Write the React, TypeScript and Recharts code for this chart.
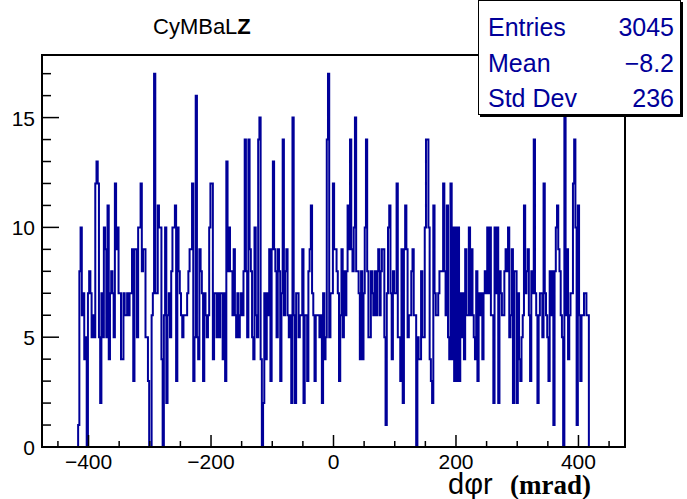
import React from "react";
import { LineChart, Line, XAxis, YAxis } from "recharts";

// histogram: 2 mrad bins starting at -417 mrad
const binStart = -417;
const binWidth = 2;
const counts: number[] = [
  1, 8, 10, 6, 7, 4, 5, 0, 7, 8, 7, 5, 6, 5, 12, 13, 12, 5, 2, 7, 5, 10, 9, 5, 11, 4, 7, 8, 7, 5, 12, 9, 10,
  7, 7, 4, 4, 7, 6, 6, 7, 6, 7, 7, 9, 3, 9, 9, 5, 10, 10, 12, 8, 9, 9, 5, 5, 3, 0, 0, 6, 7, 17, 7, 7, 11, 10, 10, 4,
  0, 6, 10, 2, 6, 7, 5, 8, 10, 10, 11, 3, 10, 8, 7, 6, 5, 6, 6, 6, 7, 8, 9, 9, 12, 3, 5, 16, 5, 4, 9, 8, 7, 3, 7, 6,
  5, 6, 10, 12, 12, 4, 7, 7, 5, 7, 5, 7, 7, 4, 7, 3, 13, 8, 10, 8, 8, 6, 9, 6, 5, 7, 5, 6, 7, 6, 8, 14, 8, 5, 14, 9,
  8, 5, 4, 10, 6, 5, 14, 15, 4, 0, 2, 7, 4, 7, 6, 9, 3, 9, 13, 9, 8, 5, 9, 8, 3, 7, 14, 6, 8, 9, 6, 5, 6, 2, 15, 6,
  2, 7, 7, 5, 6, 6, 9, 2, 6, 6, 3, 8, 9, 11, 7, 6, 3, 6, 6, 6, 5, 6, 2, 7, 4, 5, 14, 17, 5, 7, 7, 12, 9, 9, 8, 7,
  3, 6, 9, 5, 8, 6, 8, 11, 9, 14, 9, 8, 10, 15, 8, 8, 7, 4, 8, 4, 7, 10, 14, 8, 5, 5, 8, 7, 6, 8, 6, 8, 9, 6, 8, 9,
  9, 5, 1, 7, 10, 11, 7, 4, 8, 7, 7, 12, 5, 5, 3, 9, 2, 9, 11, 9, 5, 6, 6, 8, 9, 6, 6, 0, 5, 4, 4, 8, 5, 5, 10, 14,
  14, 10, 4, 3, 2, 11, 7, 6, 6, 7, 8, 8, 8, 12, 8, 6, 11, 5, 4, 12, 4, 10, 3, 10, 3, 10, 3, 7, 5, 7, 4, 9, 6, 6, 10, 6,
  9, 6, 5, 4, 8, 3, 7, 6, 7, 4, 7, 8, 7, 10, 7, 10, 6, 6, 2, 10, 7, 10, 2, 8, 7, 6, 6, 8, 9, 8, 10, 5, 6, 9, 2, 8,
  8, 2, 7, 4, 3, 5, 6, 11, 7, 8, 9, 6, 3, 8, 7, 14, 7, 6, 2, 6, 7, 7, 5, 12, 7, 6, 5, 3, 8, 6, 8, 1, 8, 10, 11, 9,
  8, 6, 5, 0, 15, 6, 9, 4, 6, 7, 7, 12, 14, 10, 1, 11, 6, 3, 6, 6, 7, 7, 6, 6,
];

const xTicks = [-450, -400, -350, -300, -250, -200, -150, -100, -50, 0, 50, 100, 150, 200, 250, 300, 350, 400, 450];
const xMajor = [-400, -200, 0, 200, 400];
const yTicks = [0, 1, 2, 3, 4, 5, 6, 7, 8, 9, 10, 11, 12, 13, 14, 15, 16, 17];
const yMajor = [0, 5, 10, 15];

const statsLabels = ["Entries", "Mean", "Std Dev"];
const statsValues = ["3045", "\u22128.2", "236"];

const FONT = "'Liberation Sans', Arial, Helvetica, sans-serif";
const SERIF = "'Liberation Serif', 'Times New Roman', serif";
const BLUE = "#000099";

const histData = [
  { x: binStart, y: 0 },
  ...counts.map((c, i) => ({ x: binStart + i * binWidth, y: c })),
  { x: binStart + counts.length * binWidth, y: counts[counts.length - 1] },
  { x: binStart + counts.length * binWidth, y: 0 },
];

const fmt = (v: number) => (v < 0 ? "\u2212" + Math.abs(v) : String(v));

const XTick = (props: any) => {
  const { x, y, payload } = props;
  const major = xMajor.includes(payload.value);
  return (
    <g>
      <line x1={x} x2={x} y1={y} y2={y - (major ? 12 : 6)} stroke="#000" strokeWidth={1.5} />
      {major && (
        <text x={x} y={y + 22} textAnchor="middle" fontSize={21} fontFamily={FONT} fill="#000">
          {fmt(payload.value)}
        </text>
      )}
    </g>
  );
};

const YTick = (props: any) => {
  const { x, y, payload } = props;
  const major = yMajor.includes(payload.value);
  return (
    <g>
      <line x1={x} x2={x + (major ? 17 : 9)} y1={y} y2={y} stroke="#000" strokeWidth={1.5} />
      {major && (
        <text x={x - 7} y={y} dy={8} textAnchor="end" fontSize={21} fontFamily={FONT} fill="#000">
          {payload.value}
        </text>
      )}
    </g>
  );
};

export default function App() {
  return (
    <div style={{ position: "absolute", left: 0, top: 0, width: 687, height: 499, background: "#fff", overflow: "hidden" }}>
      <LineChart width={687} height={499} data={histData} margin={{ top: 55, right: 62, bottom: 0, left: 0 }}>
        <XAxis
          dataKey="x"
          type="number"
          domain={[-476, 476]}
          ticks={xTicks}
          interval={0}
          height={52}
          tickSize={0}
          tickMargin={0}
          axisLine={false}
          tickLine={false}
          tick={<XTick />}
          allowDataOverflow
        />
        <YAxis
          type="number"
          domain={[0, 17.85]}
          ticks={yTicks}
          interval={0}
          width={42}
          tickSize={0}
          tickMargin={0}
          axisLine={false}
          tickLine={false}
          tick={<YTick />}
          allowDataOverflow
        />
        <Line
          type="stepAfter"
          dataKey="y"
          stroke={BLUE}
          strokeWidth={2}
          dot={false}
          isAnimationActive={false}
        />
      </LineChart>

      {/* frame */}
      <div
        style={{
          position: "absolute",
          left: 41,
          top: 54,
          width: 585,
          height: 394,
          border: "2px solid #000",
          boxSizing: "border-box",
          pointerEvents: "none",
        }}
      />

      {/* title */}
      <div style={{ position: "absolute", left: 153, top: 16, fontSize: 22, lineHeight: "22px", fontFamily: FONT, color: "#000" }}>
        CyMBaL<b>Z</b>
      </div>

      {/* stats box */}
      <div
        style={{
          position: "absolute",
          left: 478,
          top: 0,
          width: 203,
          height: 115,
          background: "#fff",
          border: "1px solid #000",
          boxShadow: "2px 2px 0 #000",
          boxSizing: "border-box",
          fontFamily: FONT,
          fontSize: 25,
          color: BLUE,
        }}
      >
        {statsLabels.map((label, i) => (
          <div
            key={label}
            style={{
              position: "absolute",
              left: 9,
              right: 6,
              top: 8 + i * 35.5,
              height: 36,
              lineHeight: "36px",
              display: "flex",
              justifyContent: "space-between",
            }}
          >
            <span>{label}</span>
            <span>{statsValues[i]}</span>
          </div>
        ))}
      </div>

      {/* x axis title */}
      <div style={{ position: "absolute", left: 448, top: 474, fontSize: 29, lineHeight: "20px", fontFamily: FONT, color: "#000", whiteSpace: "nowrap" }}>
        d{"\u03c6"}r
      </div>
      <div style={{ position: "absolute", left: 510, top: 476, fontSize: 27, lineHeight: "18px", fontFamily: SERIF, fontWeight: "bold", color: "#000", whiteSpace: "nowrap" }}>
        (mrad)
      </div>
    </div>
  );
}
